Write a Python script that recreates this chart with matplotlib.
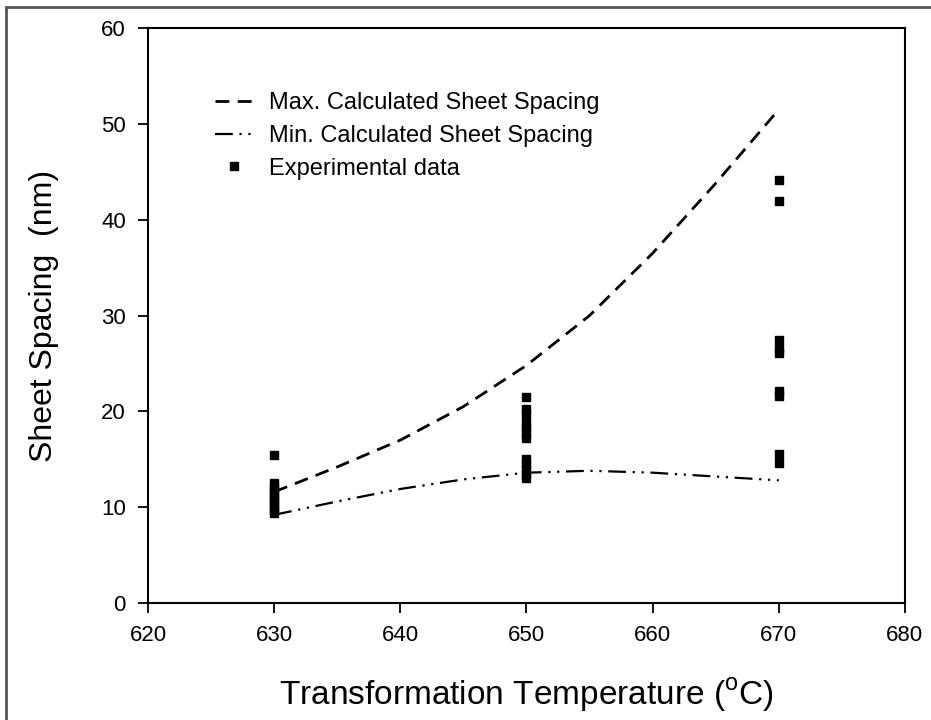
import matplotlib
matplotlib.use("Agg")
import matplotlib.pyplot as plt
from matplotlib.patches import Rectangle

plt.rcParams["font.family"] = ["Liberation Sans", "DejaVu Sans"]
plt.rcParams["mathtext.fontset"] = "custom"
plt.rcParams["mathtext.rm"] = "Liberation Sans"

# calculated curves
temp_calc = [630, 635, 640, 645, 650, 655, 660, 665, 670]
max_spacing = [11.6, 14.2, 17.0, 20.5, 24.8, 30.0, 36.5, 43.8, 51.5]
min_spacing = [9.2, 10.6, 11.9, 12.9, 13.6, 13.8, 13.6, 13.2, 12.8]

# experimental data
exp_630 = [15.4, 12.5, 12.1, 11.7, 11.3, 10.9, 10.5, 10.1, 9.7, 9.4]
exp_650 = [21.5, 20.2, 19.7, 18.8, 18.3, 17.7, 17.2, 15.0, 14.5, 14.0, 13.5, 13.0]
exp_670 = [44.1, 42.0, 27.4, 26.6, 26.1, 22.1, 21.6, 15.6, 14.6]
exp_temp = [630] * len(exp_630) + [650] * len(exp_650) + [670] * len(exp_670)
exp_spacing = exp_630 + exp_650 + exp_670

fig = plt.figure(figsize=(9.31, 7.2), dpi=100)
ax = fig.add_axes([0.159, 0.1625, 0.813, 0.7985])

ax.plot(temp_calc, max_spacing, color="black", linestyle=(0, (5, 3)), linewidth=2,
        label="Max. Calculated Sheet Spacing")
ax.plot(temp_calc, min_spacing, color="black", linestyle=(0, (8, 3, 1, 3, 1, 3)), linewidth=1.6,
        label="Min. Calculated Sheet Spacing")
ax.plot(exp_temp, exp_spacing, linestyle="none", marker="s", markersize=5.5,
        color="black", label="Experimental data")

ax.set_xlim(620, 680)
ax.set_ylim(0, 60)
ax.set_xticks(range(620, 681, 10))
ax.set_yticks(range(0, 61, 10))
ax.tick_params(direction="out", length=7, width=1.3, labelsize=16, pad=9)
for sp in ax.spines.values():
    sp.set_linewidth(1.5)

ax.set_xlabel(r"Transformation Temperature ($^{\mathrm{o}}$C)", fontsize=24, labelpad=22)
ax.set_ylabel("Sheet Spacing  (nm)", fontsize=23, labelpad=30)

ax.legend(loc="upper left", bbox_to_anchor=(0.06, 0.925), frameon=False, fontsize=17,
          handlelength=1.6, handletextpad=0.7, labelspacing=0.45, markerscale=1.0)

fig.patches.append(Rectangle((0.006, -0.01), 1.02, 1.0, transform=fig.transFigure,
                             fill=False, edgecolor="#555555", linewidth=2))

fig.savefig("out.png", dpi=100)
